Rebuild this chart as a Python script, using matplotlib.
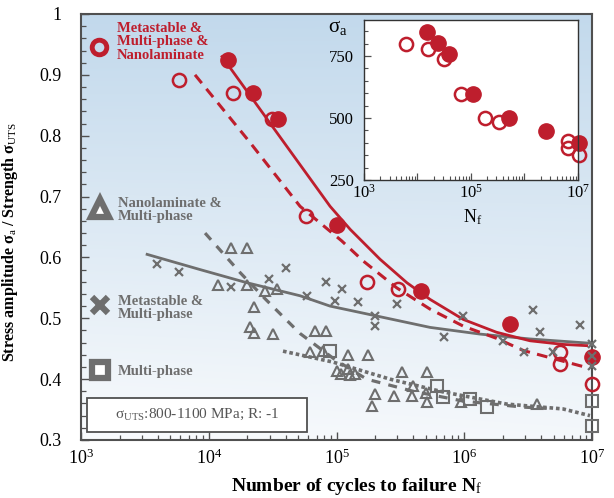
import numpy as np
import matplotlib
matplotlib.use("Agg")
import matplotlib.pyplot as plt
from matplotlib.ticker import FixedLocator, FixedFormatter, LogLocator, NullFormatter, MultipleLocator

plt.rcParams["font.family"] = ["Liberation Serif", "DejaVu Serif"]
plt.rcParams["mathtext.fontset"] = "custom"
plt.rcParams["mathtext.rm"] = "Liberation Serif"
plt.rcParams["mathtext.it"] = "Liberation Serif:italic"
plt.rcParams["mathtext.bf"] = "Liberation Serif:bold"

RED = "#be1e2d"
GRAY = "#6e6e6e"
FRAME = "#505050"

# --- main chart: normalised stress amplitude vs. cycles to failure ---
# metastable & multi-phase & nanolaminate (red)
red_filled_N = [1.42e4, 2.23e4, 3.5e4, 1.0e5, 4.6e5, 2.28e6, 1.0e7]
red_filled_r = [0.925, 0.870, 0.827, 0.654, 0.545, 0.490, 0.436]
red_open_N = [5.8e3, 1.56e4, 3.1e4, 5.8e4, 1.72e5, 3.05e5, 5.6e6, 5.6e6, 1.0e7]
red_open_r = [0.892, 0.870, 0.827, 0.668, 0.559, 0.548, 0.444, 0.425, 0.392]

# metastable & multi-phase (x)
x_N = [3.92e3, 5.89e3, 1.49e4, 2.98e4, 3.99e4, 5.85e4, 8.3e4, 1.10e5, 9.8e4, 1.48e5,
       2.0e5, 2.0e5, 2.96e5, 9.8e5, 6.9e5, 2.02e6, 2.96e6, 3.48e6, 3.92e6, 4.99e6,
       8.0e6, 1.0e7, 1.0e7, 1.0e7]
x_r = [0.589, 0.576, 0.552, 0.564, 0.582, 0.537, 0.560, 0.548, 0.529, 0.526,
       0.504, 0.488, 0.523, 0.504, 0.470, 0.463, 0.444, 0.513, 0.477, 0.444,
       0.489, 0.457, 0.438, 0.421]

# nanolaminate & multi-phase (triangles)
tri_N = [1.49e4, 1.98e4, 1.19e4, 1.98e4, 2.76e4, 3.44e4, 2.26e4, 2.10e4, 2.26e4, 3.2e4,
         6.8e4, 8.3e4, 6.2e4, 7.9e4, 1.24e5, 1.77e5, 1.0e5, 1.09e5, 1.23e5, 1.27e5,
         1.40e5, 3.24e5, 5.13e5, 2.0e5, 1.88e5, 2.82e5, 3.99e5, 3.87e5, 5.0e5, 5.08e5,
         9.5e5, 3.69e6]
tri_r = [0.616, 0.616, 0.555, 0.554, 0.545, 0.548, 0.519, 0.485, 0.475, 0.474,
         0.479, 0.479, 0.445, 0.446, 0.439, 0.439, 0.414, 0.408, 0.416, 0.407,
         0.408, 0.411, 0.411, 0.375, 0.356, 0.373, 0.389, 0.373, 0.378, 0.362,
         0.362, 0.359]

# multi-phase (squares)
sq_N = [8.9e4, 6.1e5, 6.85e5, 1.11e6, 1.5e6, 1.0e7, 1.0e7]
sq_r = [0.446, 0.389, 0.370, 0.367, 0.354, 0.364, 0.323]

# fitted trend lines
red_solid_N = [1.27e4, 3.36e4, 8.9e4, 1.28e5, 2.19e5, 3.55e5, 5.4e5, 9.84e5, 1.79e6, 3.27e6, 5.96e6, 9.08e6]
red_solid_r = [0.930, 0.807, 0.684, 0.646, 0.597, 0.5585, 0.531, 0.498, 0.477, 0.463, 0.457, 0.455]
red_dash_N = [7.8e3, 2.1e4, 5.18e4, 1.10e5, 1.62e5, 2.96e5, 5.4e5, 9.84e5, 1.79e6, 2.9e6, 8.05e6, 9.64e6]
red_dash_r = [0.900, 0.789, 0.684, 0.627, 0.594, 0.550, 0.515, 0.487, 0.467, 0.447, 0.422, 0.418]
gray_solid_N = [3.29e3, 8.55e3, 1.98e4, 5.18e4, 8.9e4, 2.14e5, 5.4e5, 1.33e6, 3.27e6, 9.64e6]
gray_solid_r = [0.605, 0.580, 0.5585, 0.537, 0.520, 0.503, 0.485, 0.474, 0.466, 0.459]
gray_dash_N = [9.35e3, 1.76e4, 2.79e4, 5.18e4, 9.73e4, 1.72e5, 3.98e5, 9.77e5, 2.88e6, 4.42e6]
gray_dash_r = [0.640, 0.575, 0.531, 0.475, 0.432, 0.400, 0.380, 0.364, 0.354, 0.352]
gray_dot_N = [3.81e4, 9.4e4, 2.62e5, 6.82e5, 2.15e6, 5.93e6, 9.64e6]
gray_dot_r = [0.446, 0.428, 0.400, 0.379, 0.359, 0.351, 0.340]

# --- inset: absolute stress amplitude (MPa) ---
in_open_N = [6.1e3, 1.58e4, 3.2e4, 6.4e4, 1.8e5, 3.4e5, 6.6e6, 6.4e6, 1.05e7]
in_open_s = [797, 777, 736, 597, 499, 485, 408, 378, 351]
in_filled_N = [1.48e4, 2.4e4, 3.9e4, 1.1e5, 5.2e5, 2.5e6, 1.05e7]
in_filled_s = [848, 801, 758, 597, 499, 449, 398]

y_ticks = [0.3, 0.4, 0.5, 0.6, 0.7, 0.8, 0.9, 1.0]
y_tick_labels = ["0.3", "0.4", "0.5", "0.6", "0.7", "0.8", "0.9", "1"]
x_ticks = [1e3, 1e4, 1e5, 1e6, 1e7]
x_tick_labels = [r"$10^{3}$", r"$10^{4}$", r"$10^{5}$", r"$10^{6}$", r"$10^{7}$"]

fig = plt.figure(figsize=(6.14, 4.98), dpi=100)
ax = fig.add_axes([0.132, 0.1165, 0.8322, 0.8554])

# light blue wash behind the data
yy, xx = np.mgrid[0:1:200j, 0:1:200j]
v = np.clip(0.9 * yy + 0.1 * (1 - xx) * yy + 0.08 * xx, 0, 1)[..., None]
bottom_c = np.array([0.975, 0.982, 0.99])
top_c = np.array([0.76, 0.85, 0.925])
ax.imshow(bottom_c + v * (top_c - bottom_c), extent=(0, 1, 0, 1), transform=ax.transAxes,
          origin="lower", aspect="auto", zorder=0, interpolation="bilinear")

ax.set_xscale("log")

ax.plot(gray_solid_N, gray_solid_r, color=GRAY, lw=2.0, zorder=2)
ax.plot(gray_dash_N, gray_dash_r, color=GRAY, lw=2.3, dashes=[2.8, 2.6], zorder=2)
ax.plot(gray_dot_N, gray_dot_r, color=GRAY, lw=2.6, dashes=[1.0, 0.8], zorder=2)
ax.plot(red_solid_N, red_solid_r, color=RED, lw=2.0, zorder=3)
ax.plot(red_dash_N, red_dash_r, color=RED, lw=2.2, dashes=[3.5, 2.4], zorder=3)

ax.plot(tri_N, tri_r, ls="none", marker="^", ms=7, mfc="none", mec=GRAY, mew=1.5, zorder=4)
ax.plot(sq_N, sq_r, ls="none", marker="s", ms=9, mfc="none", mec=GRAY, mew=1.5, zorder=4,
        clip_on=False)
ax.plot(red_open_N, red_open_r, ls="none", marker="o", ms=9.5, mfc="none", mec=RED, mew=1.8,
        zorder=5, clip_on=False)
ax.plot(red_filled_N, red_filled_r, ls="none", marker="o", ms=11, mfc=RED, mec=RED, zorder=6,
        clip_on=False)
ax.plot(x_N, x_r, ls="none", marker="x", ms=6, mec=GRAY, mew=1.6, zorder=7, clip_on=False)

ax.set_xlim(1e3, 1e7)
ax.set_ylim(0.3, 1.0)
ax.xaxis.set_major_locator(FixedLocator(x_ticks))
ax.xaxis.set_major_formatter(FixedFormatter(x_tick_labels))
ax.xaxis.set_minor_locator(LogLocator(base=10, subs=np.arange(2, 10), numticks=20))
ax.xaxis.set_minor_formatter(NullFormatter())
ax.yaxis.set_major_locator(FixedLocator(y_ticks))
ax.yaxis.set_major_formatter(FixedFormatter(y_tick_labels))
ax.yaxis.set_minor_locator(MultipleLocator(0.02))
ax.tick_params(which="both", direction="in", color=FRAME, labelsize=13)
ax.tick_params(which="major", length=6, width=1.0)
ax.tick_params(which="minor", length=3.5, width=0.9)
ax.tick_params(axis="y", pad=14)
ax.tick_params(axis="x", pad=6)
for s in ax.spines.values():
    s.set_color(FRAME)
    s.set_linewidth(1.5)

ax.set_xlabel(r"Number of cycles to failure N$_{\rm f}$", fontsize=14, fontweight="bold")
ax.xaxis.set_label_coords(0.54, -0.085)
ax.set_ylabel(r"Stress amplitude σ$_{\rm a}$ / Strength σ$_{\rm UTS}$", fontsize=11.5,
              fontweight="bold")
ax.yaxis.set_label_coords(-0.12, 0.465)

# hand-made legend
ax.plot([0.035], [0.923], transform=ax.transAxes, marker="o", ms=10.5, mfc="none", mec=RED,
        mew=3.5, ls="none", zorder=8)
ax.text(0.07, 0.982, "Metastable &\nMulti-phase &\nNanolaminate", transform=ax.transAxes,
        color=RED, fontsize=10.5, fontweight="bold", va="top", ha="left", linespacing=1.05,
        zorder=8)
ax.plot([0.037], [0.545], transform=ax.transAxes, marker="^", ms=13, mfc="white", mec=GRAY,
        mew=4.5, ls="none", zorder=8)
ax.text(0.072, 0.540, "Nanolaminate &\nMulti-phase", transform=ax.transAxes, color=GRAY,
        fontsize=10.5, fontweight="bold", va="center", ha="left", linespacing=1.05, zorder=8)
ax.plot([0.037], [0.317], transform=ax.transAxes, marker="x", ms=12, mec=GRAY, mew=4.5,
        ls="none", zorder=8)
ax.text(0.072, 0.310, "Metastable &\nMulti-phase", transform=ax.transAxes, color=GRAY,
        fontsize=10.5, fontweight="bold", va="center", ha="left", linespacing=1.05, zorder=8)
ax.plot([0.037], [0.164], transform=ax.transAxes, marker="s", ms=11, mfc="white", mec=GRAY,
        mew=4.5, ls="none", zorder=8)
ax.text(0.072, 0.160, "Multi-phase", transform=ax.transAxes, color=GRAY,
        fontsize=10.5, fontweight="bold", va="center", ha="left", zorder=8)

box = plt.Rectangle((0.011, 0.019), 0.431, 0.079, transform=ax.transAxes, fc="white",
                    ec=FRAME, lw=1.3, zorder=8)
ax.add_patch(box)
ax.text(0.2266, 0.059, r"σ$_{\rm UTS}$:800-1100 MPa; R: -1", transform=ax.transAxes,
        color="#555555", fontsize=11, ha="center", va="center", zorder=9)

# --- inset ---
ins = fig.add_axes([0.5928, 0.6386, 0.3485, 0.3213])
ins.set_facecolor("white")
ins.set_xscale("log")
ins.plot(in_open_N, in_open_s, ls="none", marker="o", ms=9.5, mfc="none", mec=RED, mew=1.8,
         clip_on=False)
ins.plot(in_filled_N, in_filled_s, ls="none", marker="o", ms=11, mfc=RED, mec=RED, clip_on=False)
ins.set_xlim(1e3, 1e7)
ins.set_ylim(250, 895)
ins.xaxis.set_major_locator(FixedLocator([1e3, 1e4, 1e5, 1e6, 1e7]))
ins.xaxis.set_major_formatter(FixedFormatter([r"$10^{3}$", "", r"$10^{5}$", "", r"$10^{7}$"]))
ins.xaxis.set_minor_locator(LogLocator(base=10, subs=np.arange(2, 10), numticks=20))
ins.xaxis.set_minor_formatter(NullFormatter())
ins.yaxis.set_major_locator(FixedLocator([250, 500, 750]))
ins.yaxis.set_minor_locator(MultipleLocator(50))
ins.tick_params(which="both", direction="in", color=FRAME, labelsize=12)
ins.tick_params(which="major", length=5, width=0.9)
ins.tick_params(which="minor", length=3, width=0.8)
ins.tick_params(axis="y", pad=7)
ins.tick_params(axis="x", pad=3)
for s in ins.spines.values():
    s.set_color("#333333")
    s.set_linewidth(1.0)
ins.text(-0.12, 0.95, r"σ$_{\rm a}$", transform=ins.transAxes, fontsize=15, ha="center",
         va="center")
ins.text(0.51, -0.235, r"N$_{\rm f}$", transform=ins.transAxes, fontsize=13, ha="center",
         va="center")

fig.savefig("out.png", dpi=100)
